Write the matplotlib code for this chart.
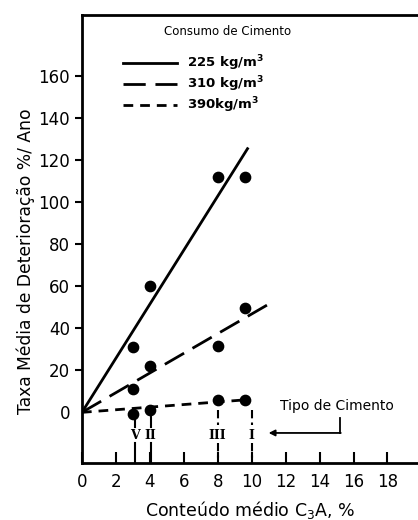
import matplotlib.pyplot as plt
import numpy as np

# data
c3a = [3.0, 4.0, 8.0, 9.6]
rate_225 = [31, 60, 112, 112]
rate_310 = [11, 22, 31.5, 49.5]
rate_390 = [-1, 1, 5.7, 5.7]

fit_x_225 = [0, 9.8]
fit_y_225 = [0, 126]
fit_x_310 = [0, 10.9]
fit_y_310 = [0, 51]
fit_x_390 = [0, 9.7]
fit_y_390 = [0, 6]

cement_types = ['V', 'II', 'III', 'I']
cement_x = [3.1, 4.05, 8.0, 10.0]

labels = ['225 kg/m$^\\mathbf{3}$', '310 kg/m$^\\mathbf{3}$', '390kg/m$^\\mathbf{3}$']

fig = plt.figure(figsize=(4.18, 5.2), dpi=100)
ax = fig.add_axes([0.196, 0.110, 0.804, 0.861])

lw = 2.0
ax.plot(fit_x_225, fit_y_225, color='black', lw=lw, solid_capstyle='butt')
ax.plot(fit_x_310, fit_y_310, color='black', lw=lw, dashes=(8, 3.5))
ax.plot(fit_x_390, fit_y_390, color='black', lw=lw, dashes=(3.5, 2.5))

for ys in (rate_225, rate_310, rate_390):
    ax.scatter(c3a, ys, s=55, color='black', zorder=3)

# cement type markers
for name, x in zip(cement_types, cement_x):
    if name in ('V', 'II'):
        ax.plot([x, x], [-1, -7], color='black', lw=1.5)
        ax.plot([x, x], [-14.5, -24], color='black', lw=1.5)
    else:
        ax.plot([x, x], [1, -6], color='black', lw=1.5, dashes=(4, 2))
        ax.plot([x, x], [-14.5, -24], color='black', lw=1.5, dashes=(4, 2, 1, 2))
    ax.text(x, -11, name, ha='center', va='center', fontsize=9,
            fontweight='bold', family='DejaVu Serif')

ax.text(15.0, 3, 'Tipo de Cimento', ha='center', va='center', fontsize=10)
ax.plot([15.2, 15.2], [-2.5, -9.8], color='black', lw=1.3)
ax.annotate('', xy=(11.0, -9.8), xytext=(15.25, -9.8),
            arrowprops=dict(arrowstyle='-|>', color='black', lw=1.3,
                            mutation_scale=9, shrinkA=0, shrinkB=0))

# legend drawn by hand inside the axes
ax.text(8.6, 181, 'Consumo de Cimento', ha='center', va='center', fontsize=8.5)
leg_y = [166, 156, 146]
styles = [dict(), dict(dashes=(8, 3.5)), dict(dashes=(3.5, 2.5))]
for y, lab, st in zip(leg_y, labels, styles):
    ax.plot([2.4, 5.6], [y, y], color='black', lw=lw, **st)
    ax.text(6.2, y, lab, ha='left', va='center', fontsize=9.5, fontweight='bold')

ax.set_xlim(0, 19.8)
ax.set_ylim(-24, 189)
ax.set_xticks(np.arange(0, 20, 2))
ax.set_yticks(np.arange(0, 161, 20))
ax.tick_params(axis='x', direction='in', length=8, width=1.5, labelsize=12, pad=7)
ax.tick_params(axis='y', direction='out', length=5, width=1.5, labelsize=12)
ax.yaxis.get_major_ticks()[0].tick1line.set_visible(False)

for s in ['left', 'bottom', 'top']:
    ax.spines[s].set_linewidth(2)
ax.spines['right'].set_visible(False)

ax.set_xlabel('Conteúdo médio C$_3$A, %', fontsize=12.5, labelpad=6)
ax.set_ylabel('Taxa Média de Deterioração %/ Ano', fontsize=12.3)
ax.yaxis.set_label_coords(-0.14, 0.45)

plt.savefig('out.png', dpi=100)
